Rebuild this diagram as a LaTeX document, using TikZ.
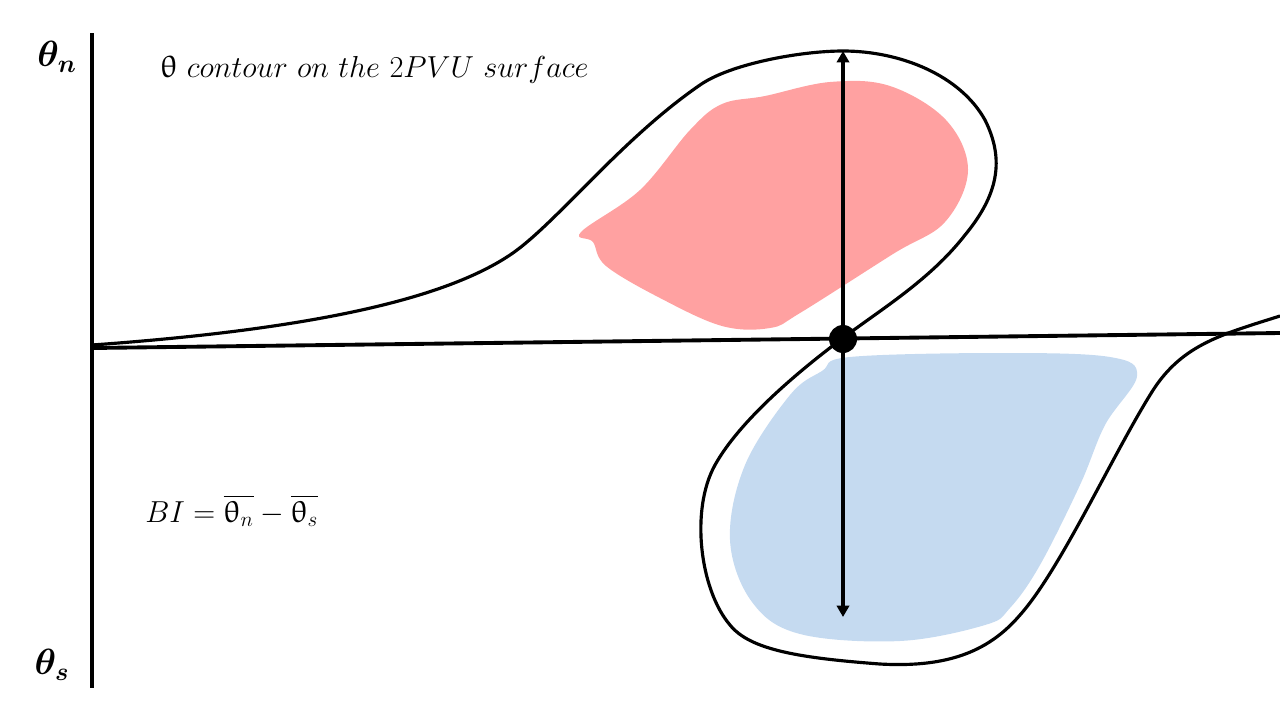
\documentclass[tikz,border=0pt]{standalone}
\usepackage{amsmath}
\usepackage{bm}
\usepackage{upgreek}
\usetikzlibrary{arrows.meta}
\definecolor{warmred}{RGB}{255,161,161}
\definecolor{coldblue}{RGB}{197,218,240}

\begin{document}
\begin{tikzpicture}[x=0.02cm, y=-0.02cm]
			%%%%% START %%%%%
			\useasboundingbox (0, 0) rectangle (1280, 720);
			
			% anomalies
			\fill[warmred] plot[smooth cycle, tension=0.6] coordinates {(581, 232) (593, 242) (606, 266) (660, 298) (722, 326) (770, 328) (800, 313) (893, 254) (945, 222) (968, 170) (946, 120) (890, 86) (830, 82) (765, 96) (722, 104) (690, 130) (640, 190)};
			\fill[coldblue] plot[smooth cycle, tension=0.6] coordinates {(850, 357) (1000, 353) (1110, 357) (1137, 376) (1105, 425) (1080, 485) (1040, 565) (1010, 608) (985, 625) (900, 641) (800, 634) (752, 602) (730, 540) (745, 465) (790, 395) (822, 371)};
			
			% axes
			\draw[line width=2.2pt] (92, 33) -- (92, 688);
			\draw[line width=2.2pt] (92, 348) -- (1280, 333);
			
			% contour
			\draw[line width=1.8pt] (92, 345) .. controls (330, 328) and (450, 295) .. (510, 255)
				.. controls (555, 225) and (620, 140) .. (700, 85)
				.. controls (730, 64) and (800, 51) .. (843, 51)
				.. controls (900, 51) and (960, 75) .. (985, 120)
				.. controls (1005, 160) and (998, 195) .. (965, 235)
				.. controls (930, 280) and (880, 310) .. (843, 338)
				.. controls (800, 370) and (740, 420) .. (715, 465)
				.. controls (690, 510) and (700, 590) .. (730, 625)
				.. controls (750, 650) and (800, 658) .. (880, 664)
				.. controls (950, 668) and (990, 650) .. (1020, 615)
				.. controls (1060, 570) and (1110, 460) .. (1150, 395)
				.. controls (1180, 345) and (1220, 335) .. (1280, 316);
			
			% crossing point and arrows
			\node[circle, fill=black, inner sep=0pt, minimum size=0.56cm] (cross) at (843, 339) {};
			\coordinate (top) at (843, 51);
			\coordinate (bottom) at (843, 617);
			\draw[line width=2pt, -{Triangle[length=6.5pt, width=7pt]}] (cross) -- (top);
			\draw[line width=2pt, -{Triangle[length=6.5pt, width=7pt]}] (cross) -- (bottom);
			
			% labels
			\node[anchor=center] (thetaN) at (57, 57) {\fontsize{22}{26}\selectfont $\bm{\theta_n}$};
			\node[anchor=center] (thetaS) at (52, 665) {\fontsize{22}{26}\selectfont $\bm{\theta_s}$};
			\node[anchor=base west, inner sep=0pt] (title) at (160, 77) {\fontsize{17.6}{20}\selectfont $\uptheta\ contour\ on\ the\ 2PVU\ surface$};
			\node[anchor=base west, inner sep=0pt] (index) at (145, 522) {\fontsize{17.3}{20}\selectfont $BI=\overline{\uptheta_n}-\overline{\uptheta_s}$};
			%%%%% END %%%%%
		\end{tikzpicture}
\end{document}
